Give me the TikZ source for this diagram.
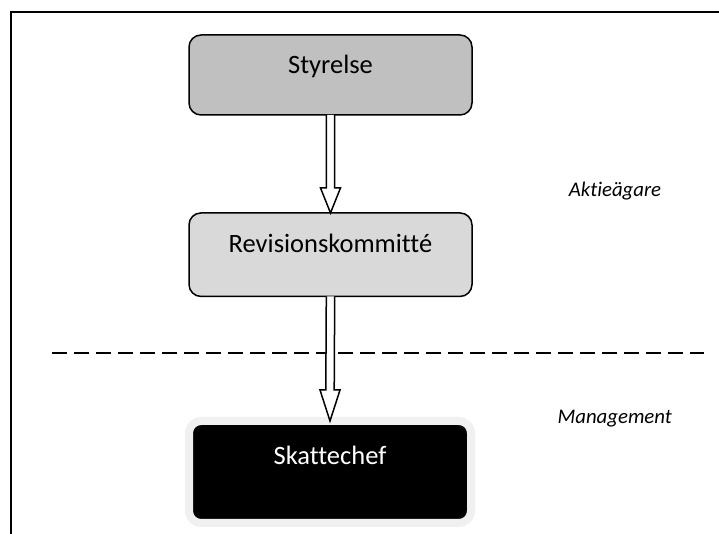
\documentclass[tikz,border=0pt]{standalone}
\usepackage{fontspec}
\setmainfont[Ligatures=NoCommon]{Carlito}
\usetikzlibrary{calc}
\definecolor{boardgray}{HTML}{C0C0C0}
\definecolor{committeegray}{HTML}{D9D9D9}
\definecolor{halogray}{HTML}{F0F0F0}
% hollow block arrow from the bottom of #1 to the top of #2, head length #3
\newcommand\hollowarrow[3]{%
  \draw[blockarrow]
    ($(#1.south)+(-4.2,0)$) -- ($(#2.north)+(-4.2,#3)$) -- ($(#2.north)+(-10,#3)$)
    -- (#2.north) -- ($(#2.north)+(10,#3)$) -- ($(#2.north)+(4.2,#3)$)
    -- ($(#1.south)+(4.2,0)$);}
\begin{document}
\begin{tikzpicture}[x=1pt,y=1pt,
  box/.style={draw=black, line width=1.5pt, rounded corners=12pt,
    minimum width=283pt, inner sep=0pt, outer sep=0pt, text height=20pt,
    font=\fontsize{26.5}{30}\selectfont},
  side/.style={anchor=base, inner sep=0pt, font=\fontsize{20.8}{24}\selectfont\itshape},
  blockarrow/.style={draw=black, fill=white, line width=1.5pt, line join=miter},
  divider/.style={line width=2pt, dash pattern=on 15pt off 7pt},
  frame/.style={line width=1.6pt}]
\useasboundingbox (0,0) rectangle (719,534);

% open frame: top and left edges only
\coordinate (frameTR) at (719,521.7);
\coordinate (frameTL) at (10.7,521.7);
\coordinate (frameBL) at (10.7,0);
\draw[frame] (frameTR) -- (frameTL) -- (frameBL);

% boxes
\node[box, fill=boardgray, minimum height=80pt, text depth=22pt]
  (board) at (330.5,459) {Styrelse};
\node[box, fill=committeegray, minimum height=83.5pt, text depth=24.8pt]
  (committee) at (330.5,279.3) {Revisionskommitté};
\node[box, draw=halogray, line width=8pt, fill=black, text=white,
  minimum width=282pt, minimum height=102pt, text depth=34pt]
  (taxhead) at (330,62) {Skattechef};

% dividing line between shareholders and management
\coordinate (divL) at (52.3,180.5);
\coordinate (divR) at (704,180.5);
\draw[divider] (divL) -- (divR);

% arrows
\hollowarrow{board}{committee}{25}
\hollowarrow{committee}{taxhead}{31}

% side labels
\node[side] (owners) at (615,337.3) {Aktieägare};
\node[side] (mgmt) at (614.7,110.7) {Management};
\end{tikzpicture}
\end{document}
